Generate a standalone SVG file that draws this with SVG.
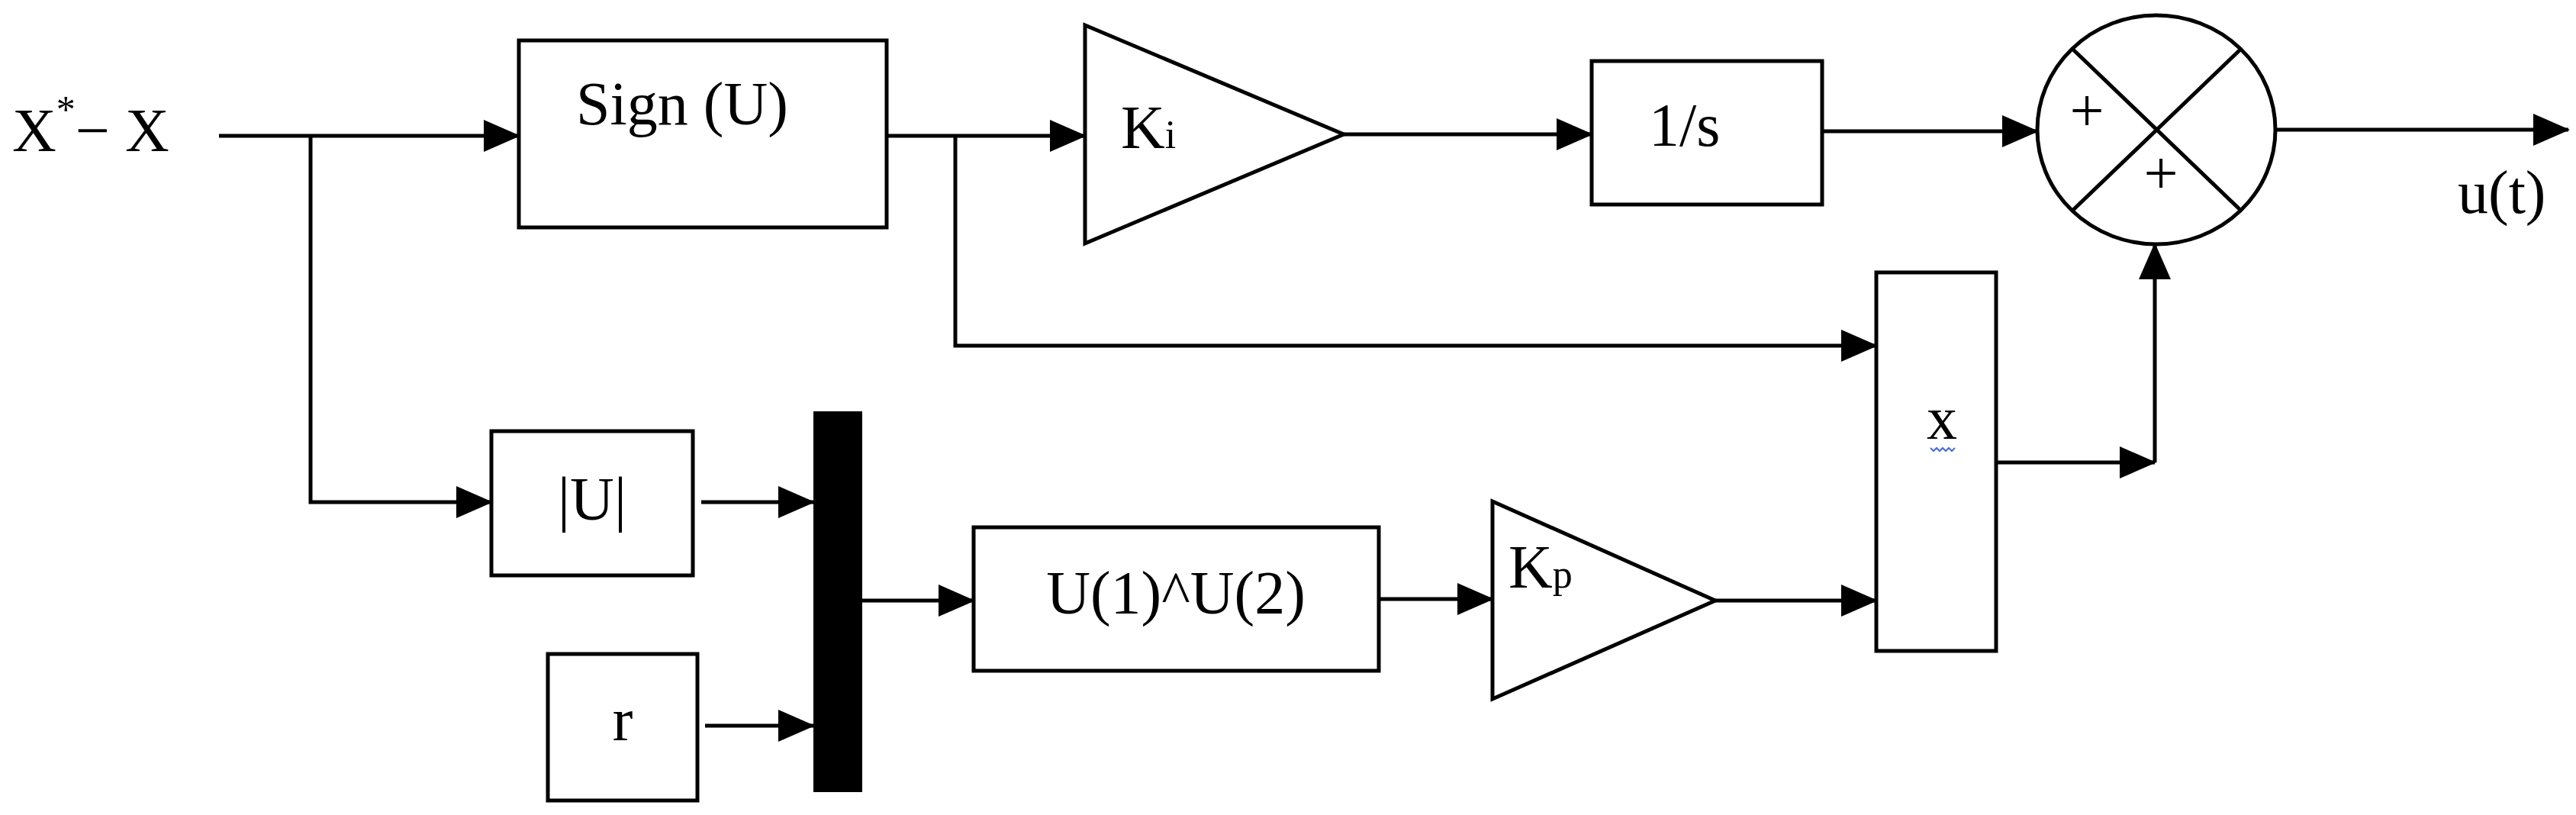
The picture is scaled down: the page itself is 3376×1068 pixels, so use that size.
<svg xmlns="http://www.w3.org/2000/svg" width="3376" height="1068" viewBox="0 0 3376 1068">
<style>
.b{fill:#fff;stroke:#000;stroke-width:5}
.t{font-family:"Liberation Serif",serif;font-size:80px;fill:#000}
.c{fill:none;stroke:#000;stroke-width:5}
</style>
<defs>
<marker id="a" markerUnits="userSpaceOnUse" markerWidth="48" markerHeight="42" refX="46" refY="21" orient="auto"><path d="M0,0 L48,21 L0,42z" fill="#000"/></marker>
</defs>
<rect width="3376" height="1068" fill="#fff"/>
<g id="input"><text class="t" x="16" y="198" font-size="90">X<tspan font-size="50" dy="-38">*</tspan><tspan dy="38">− X</tspan></text></g>
<g id="sign"><rect class="b" x="680" y="53" width="482" height="245"/><text class="t" x="894" y="163" text-anchor="middle">Sign (U)</text></g>
<g id="ki"><polygon class="b" points="1422,33 1761,176 1422,319"/><text class="t" x="1469" y="194">K<tspan font-size="52">i</tspan></text></g>
<g id="integrator"><rect class="b" x="2086" y="80" width="302" height="188"/><text class="t" x="2161" y="191">1/s</text></g>
<g id="sum"><ellipse class="b" cx="2826" cy="170" rx="156" ry="150"/><path class="c" d="M2716,64 L2937,276 M2937,64 L2716,276"/><text class="t" x="2735" y="172" font-size="60" text-anchor="middle">+</text><text class="t" x="2832" y="254" font-size="60" text-anchor="middle">+</text></g>
<g id="output"><text class="t" x="3221" y="279">u(t)</text></g>
<g id="abs"><rect class="b" x="644" y="565" width="264" height="189"/><text class="t" x="776" y="681" text-anchor="middle">|U|</text></g>
<g id="r"><rect class="b" x="718" y="857" width="196" height="192"/><text class="t" x="816" y="970" text-anchor="middle">r</text></g>
<g id="mux"><rect x="1066" y="539" width="64" height="499" fill="#000"/></g>
<g id="pow"><rect class="b" x="1276" y="691" width="531" height="188"/><text class="t" x="1541" y="804" text-anchor="middle">U(1)^U(2)</text></g>
<g id="kp"><polygon class="b" points="1956,657 2248,787 1956,916"/><text class="t" x="1977" y="770">K<tspan font-size="52">p</tspan></text></g>
<g id="product"><rect class="b" x="2459" y="357" width="157" height="496"/><text class="t" x="2545" y="575" text-anchor="middle">x</text><path d="M2530,587 l4,4 4,-4 4,4 4,-4 4,4 4,-4 4,4 4,-4" fill="none" stroke="#4a6fd0" stroke-width="2"/></g>
<g id="connectors">
<path class="c" d="M287,178 H680" marker-end="url(#a)"/>
<path class="c" d="M407,178 V658 H644" marker-end="url(#a)"/>
<path class="c" d="M1162,178 H1422" marker-end="url(#a)"/>
<path class="c" d="M1252,178 V453 H2459" marker-end="url(#a)"/>
<path class="c" d="M1761,176 H2086" marker-end="url(#a)"/>
<path class="c" d="M2388,172 H2670" marker-end="url(#a)"/>
<path class="c" d="M2983,170 H3366" marker-end="url(#a)"/>
<path class="c" d="M919,658 H1066" marker-end="url(#a)"/>
<path class="c" d="M924,951 H1066" marker-end="url(#a)"/>
<path class="c" d="M1130,787 H1276" marker-end="url(#a)"/>
<path class="c" d="M1807,785 H1956" marker-end="url(#a)"/>
<path class="c" d="M2248,787 H2459" marker-end="url(#a)"/>
<path class="c" d="M2616,606 H2824" marker-end="url(#a)"/>
<path class="c" d="M2824,606 V320" marker-end="url(#a)"/>
</g>
</svg>
